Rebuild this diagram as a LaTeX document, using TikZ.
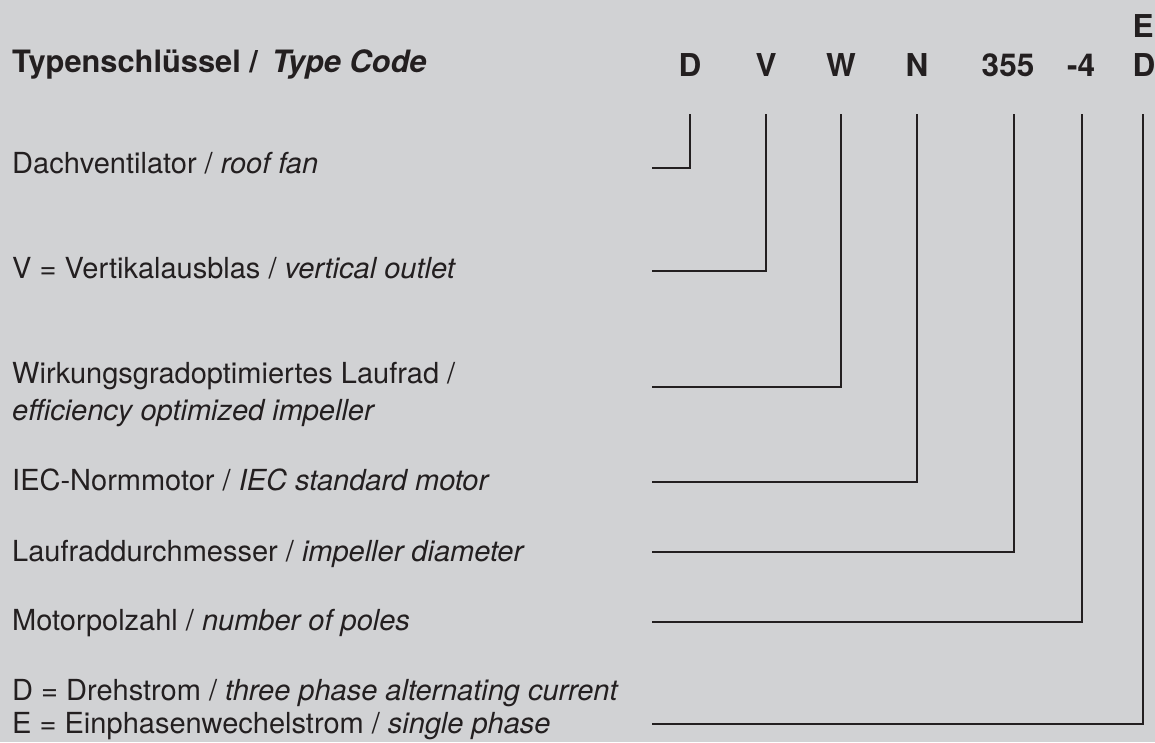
\documentclass[tikz,border=0pt]{standalone}
\usepackage{fontspec}
\setmainfont{TeX Gyre Heros}
\definecolor{bg}{HTML}{D1D2D4}
\definecolor{ink}{HTML}{231F20}
\begin{document}
\begin{tikzpicture}[x=1pt,y=-1pt,
  lbl/.style={anchor=base west, inner sep=0pt, text=ink, font=\fontsize{29}{34}\selectfont},
  head/.style={anchor=base west, inner sep=0pt, text=ink, font=\fontsize{30.8}{36}\selectfont\bfseries},
  code/.style={anchor=base, inner sep=0pt, text=ink, font=\fontsize{31.5}{36}\selectfont\bfseries},
  conn/.style={draw=ink, line width=2.6pt, line join=miter}]
\fill[bg] (0,0) rectangle (1155,742);
\useasboundingbox (0,0) rectangle (1155,742);

% heading
\node[head] (title) at (12,72) {Typenschlüssel /\hspace{0.45em}\textit{Type Code}};

% code letters
\node[code] (cD) at (690,76) {D};
\node[code] (cV) at (766,76) {V};
\node[code] (cW) at (841,76) {W};
\node[code] (cN) at (917,76) {N};
\node[code] (c355) at (1008,76) {355};
\node[code] (c4) at (1081,76) {-4};
\node[code] (cDE) at (1144,76) {D};
\node[code] (cE) at (1143,37) {E};

% labels
\node[lbl] (lD) at (12,173) {Dachventilator / \textit{roof fan}};
\node[lbl] (lV) at (12,278) {V = Vertikalausblas / \textit{vertical outlet}};
\node[lbl] (lW1) at (12,383) {Wirkungsgradoptimiertes Laufrad /};
\node[lbl] (lW2) at (12,420) {\textit{efficiency optimized impeller}};
\node[lbl] (lN) at (12,490) {IEC-Normmotor / \textit{IEC standard motor}};
\node[lbl] (l355) at (12,561) {Laufraddurchmesser / \textit{impeller diameter}};
\node[lbl] (l4) at (12,630) {Motorpolzahl / \textit{number of poles}};
\node[lbl] (lDE1) at (12,700) {D = Drehstrom / \textit{three phase alternating current}};
\node[lbl] (lDE2) at (12,733) {E = Einphasenwechelstrom / \textit{single phase}};

% connector end points
\coordinate (tD) at (690,114);   \coordinate (eD) at (652,168);
\coordinate (tV) at (766,114);   \coordinate (eV) at (652,271);
\coordinate (tW) at (841,114);   \coordinate (eW) at (652,387);
\coordinate (tN) at (917,114);   \coordinate (eN) at (652,482);
\coordinate (t355) at (1014,114); \coordinate (e355) at (652,552);
\coordinate (t4) at (1082,114);  \coordinate (e4) at (652,622);
\coordinate (tDE) at (1143,114); \coordinate (eDE) at (652,724);

\draw[conn] (tD) |- (eD);
\draw[conn] (tV) |- (eV);
\draw[conn] (tW) |- (eW);
\draw[conn] (tN) |- (eN);
\draw[conn] (t355) |- (e355);
\draw[conn] (t4) |- (e4);
\draw[conn] (tDE) |- (eDE);
\end{tikzpicture}
\end{document}
